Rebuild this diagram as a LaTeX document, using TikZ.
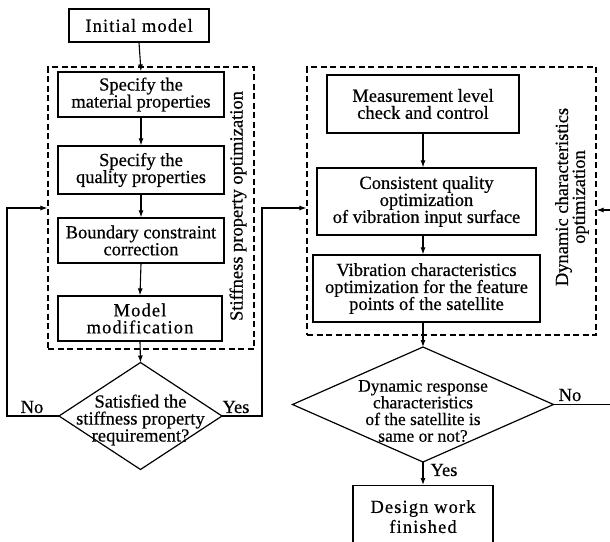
\documentclass[tikz,border=0pt]{standalone}
\usepackage{fontspec}
\setmainfont{Liberation Serif}[FakeBold=0.5]
\usetikzlibrary{arrows.meta,shapes.geometric}
\newcommand{\bfs}{\fontsize{18.5}{17}\selectfont}
\newcommand{\dfs}{\fontsize{17.5}{16.7}\selectfont}
\tikzset{
  box/.style={draw, line width=1.2pt, inner sep=0pt, align=center, font=\bfs},
  wbox/.style={box, font=\bfs\addfontfeature{LetterSpace=6}},
  dashbox/.style={draw, line width=1.1pt, dash pattern=on 6pt off 3.5pt, inner sep=0pt},
  dia/.style={draw, diamond, line width=1.2pt, inner sep=0pt, outer sep=0pt},
  lab/.style={font=\bfs, inner sep=0pt},
  arr/.style={line width=1.1pt, -{Latex[length=7pt,width=5pt]}},
}
\begin{document}
\begin{tikzpicture}[x=1pt,y=-1pt]
\clip (0,0) rectangle (610,541);
% left column
\node[wbox, minimum width=140pt, minimum height=33pt] (init) at (139,25.5) {Initial model};
\node[dashbox, minimum width=206pt, minimum height=282pt] (ldash) at (151,208) {};
\node[box, minimum width=166pt, minimum height=45pt] (mat) at (141,94.5) {Specify the\\material properties};
\node[box, minimum width=166pt, minimum height=48pt] (qual) at (141,170) {Specify the\\quality properties};
\node[box, minimum width=166pt, minimum height=45pt] (bound) at (141,240.5) {Boundary constraint\\correction};
\node[wbox, minimum width=164pt, minimum height=45pt] (model) at (140,318.5) {Model\\modification};
\node[lab, rotate=90] (stiff) at (238,206) {Stiffness property optimization};
\node[dia, minimum width=163pt, minimum height=107pt] (d1) at (140.5,416) {};
\node[font=\bfs, align=center, inner sep=0pt] (d1t) at (140.5,420) {Satisfied the\\stiffness property\\requirement?};
% right column
\node[dashbox, minimum width=289pt, minimum height=268pt] (rdash) at (451.5,201) {};
\node[box, minimum width=192pt, minimum height=58pt] (meas) at (423,104) {Measurement level\\check and control};
\node[box, minimum width=219pt, minimum height=67pt] (cons) at (426.5,201.5) {Consistent quality\\optimization\\of vibration input surface};
\node[box, minimum width=227pt, minimum height=67pt] (vib) at (426.5,288.5) {Vibration characteristics\\optimization for the feature\\points of the satellite};
\node[lab, rotate=90, align=center] (dyn) at (572,197) {Dynamic characteristics\\optimization};
\node[dia, minimum width=261pt, minimum height=115pt] (d2) at (423,404.5) {};
\node[font=\dfs, align=center, inner sep=0pt] (d2t) at (423,411) {Dynamic response\\characteristics\\of the satellite is\\same or not?};
\node[wbox, minimum width=140pt, minimum height=62pt, anchor=north, font=\fontsize{18.5}{20}\selectfont\addfontfeature{LetterSpace=6}] (design) at (423,485) {Design work\\finished};
% coordinates
\coordinate (noL) at (7,208);
\coordinate (yesR) at (262,208);
\coordinate (noRb) at (613,404.5);
\coordinate (noRt) at (613,210);
% connectors
\draw[arr] (init.south) -- (mat.north);
\draw[arr] (mat.south) -- (qual.north);
\draw[arr] (qual.south) -- (bound.north);
\draw[arr] (bound.south) -- (model.north);
\draw[arr] (model.south) -- (d1.north);
\draw[arr] (d1.west) -| (noL) -- (noL -| ldash.west);
\draw[arr] (d1.east) -| (yesR) -- (yesR -| rdash.west);
\draw[arr] (meas.south) -- (meas.south |- cons.north);
\draw[arr] (meas.south |- cons.south) -- (meas.south |- vib.north);
\draw[arr] (meas.south |- vib.south) -- (d2.north);
\draw[arr] (d2.south) -- (design.north);
\draw[arr] (d2.east) -- (noRb) -- (noRt) -- (noRt -| rdash.east);
% labels
\node[lab] (lno) at (32,407) {No};
\node[lab] (lyes) at (236,407) {Yes};
\node[lab] (rno) at (570,395) {No};
\node[lab] (ryes) at (444,470) {Yes};
\end{tikzpicture}
\end{document}
